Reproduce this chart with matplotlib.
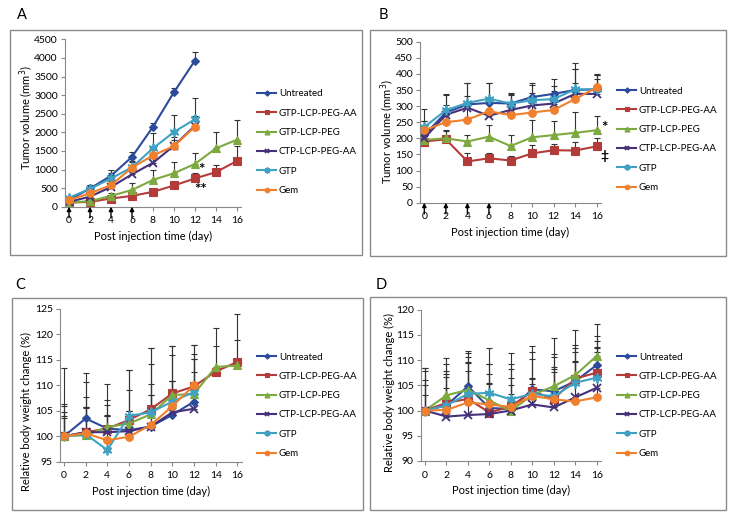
import numpy as np
import matplotlib
matplotlib.use("Agg")
import matplotlib.pyplot as plt
from matplotlib.patches import Rectangle

plt.rcParams['font.family'] = ['Lato', 'DejaVu Sans']
plt.rcParams['font.size'] = 8

# data
names = ["Untreated", "GTP-LCP-PEG-AA", "GTP-LCP-PEG", "CTP-LCP-PEG-AA", "GTP", "Gem"]
days_short = [0, 2, 4, 6, 8, 10, 12]
days_long = [0, 2, 4, 6, 8, 10, 12, 14, 16]
dose_days = [0, 2, 4, 6]

# panel A: tumor volume (mm3)
vol_a = [
    [180, 490, 830, 1340, 2150, 3080, 3930],
    [110, 130, 220, 290, 400, 570, 760, 930, 1230],
    [110, 150, 290, 450, 720, 900, 1150, 1570, 1800],
    [130, 270, 530, 870, 1180, 1640, 2180],
    [240, 480, 760, 1060, 1570, 2010, 2350],
    [180, 360, 580, 1050, 1380, 1630, 2150],
]
err_a = [
    [60, 90, 170, 120, 110, 120, 220],
    [30, 30, 40, 50, 60, 80, 150, 190, 390],
    [30, 40, 90, 180, 280, 300, 290, 450, 540],
    [40, 60, 80, 100, 120, 150, 200],
    [60, 100, 140, 170, 400, 450, 560],
    [50, 80, 100, 150, 200, 250, 300],
]

# panel B: tumor volume (mm3)
vol_b = [
    [210, 280, 305, 310, 308, 328, 338, 350, 352],
    [190, 197, 128, 138, 131, 153, 163, 162, 175],
    [195, 200, 190, 205, 176, 203, 210, 217, 225],
    [200, 273, 295, 270, 288, 302, 308, 338, 338],
    [235, 287, 310, 323, 308, 318, 322, 352, 352],
    [225, 250, 258, 284, 272, 280, 288, 322, 358],
]
err_b = [
    [45, 56, 67, 63, 32, 44, 46, 65, 48],
    [10, 25, 25, 15, 15, 25, 20, 25, 25],
    [20, 25, 19, 35, 34, 55, 44, 65, 43],
    [40, 30, 35, 40, 45, 40, 40, 77, 45],
    [55, 50, 62, 50, 30, 47, 40, 83, 45],
    [30, 25, 40, 40, 35, 40, 40, 50, 40],
]

# panel C: relative body weight (%)
bw_c = [
    [100, 103.5, 101.5, 101.2, 101.9, 104.2, 106.8],
    [100, 100.8, 101.5, 103.2, 105.3, 108.4, 109.8, 112.7, 114.6],
    [100, 100.2, 101.8, 102.5, 104.3, 108.1, 108.3, 113.6, 113.9],
    [100, 100.8, 100.8, 101.0, 101.9, 104.7, 105.4],
    [100, 100.4, 97.3, 104.0, 104.7, 106.8, 108.7],
    [100, 100.6, 99.2, 99.9, 102.2, 105.9, 110.0],
]
err_c = [
    [4.8, 9.0, 8.7, 11.9, 15.4, 13.6, 11.1],
    [13.5, 6.9, 5.7, 9.9, 12.0, 9.4, 8.1, 8.6, 9.5],
    [6.4, 10.4, 4.4, 6.5, 9.9, 7.8, 6.9, 4.1, 5.1],
    [4.0, 4.9, 3.2, 4.0, 6.2, 6.2, 7.3],
    [6.0, 5.3, 6.7, 1.0, 3.4, 4.1, 6.5],
    [3.5, 5.0, 5.0, 5.1, 8.0, 5.0, 6.2],
]

# panel D: relative body weight (%)
bw_d = [
    [100, 101.0, 104.8, 100.5, 100.3, 104.2, 103.8, 105.8, 109.0],
    [100, 101.5, 102.3, 99.6, 100.8, 103.8, 102.3, 106.3, 107.5],
    [100, 103.0, 104.1, 102.0, 99.9, 103.1, 104.8, 107.0, 110.8],
    [100, 98.8, 99.1, 99.3, 100.0, 101.2, 100.6, 102.6, 104.5],
    [100, 101.0, 103.3, 103.5, 102.2, 103.3, 102.8, 105.5, 106.5],
    [100, 100.1, 101.6, 101.2, 100.7, 102.9, 102.2, 101.8, 102.6],
]
err_d = [
    [8.5, 9.4, 7.0, 11.8, 11.0, 8.6, 7.4, 6.6, 8.2],
    [8.4, 7.7, 9.1, 9.7, 8.5, 7.7, 12.0, 9.7, 7.3],
    [7.8, 4.8, 6.5, 5.2, 8.3, 7.1, 5.7, 6.0, 3.0],
    [6.1, 8.4, 10.4, 6.2, 6.5, 5.1, 8.0, 8.9, 7.9],
    [5.1, 5.6, 4.6, 5.8, 2.8, 2.0, 4.8, 4.1, 6.0],
    [3.0, 4.4, 8.0, 4.0, 2.6, 3.5, 6.0, 8.0, 9.0],
]

colors = ['#2D4B9B', '#B33C3A', '#7DAA3F', '#45307A', '#3FA2C5', '#F0802D']
markers = ['D', 's', '^', 'x', (6, 2, 0), 'o']
msizes = [4.5, 5.5, 6, 6, 7, 5.5]

W, H = 729, 517
fig = plt.figure(figsize=(W / 100, H / 100), dpi=100)


def px_axes(x0, x1, ytop, ybot):
    return fig.add_axes([x0 / W, 1 - ybot / H, (x1 - x0) / W, (ybot - ytop) / H])


def frame(x0, y0, x1, y1):
    fig.patches.append(Rectangle((x0 / W, 1 - y1 / H), (x1 - x0) / W, (y1 - y0) / H,
                                 transform=fig.transFigure, fill=False,
                                 edgecolor='#8a8a8a', lw=1.0))


def draw_panel(ax, values, errs, ylim, ystep, ylabel, lab_x, lab_y):
    for i in range(6):
        d = days_short if len(values[i]) == 7 else days_long
        ax.errorbar(d, values[i], yerr=[np.zeros(len(errs[i])), errs[i]], fmt='none',
                    ecolor='#333333', elinewidth=0.8, capsize=2.5, capthick=0.8, zorder=1)
    for i in range(6):
        d = days_short if len(values[i]) == 7 else days_long
        ax.plot(d, values[i], color=colors[i], marker=markers[i], ms=msizes[i],
                mew=1.3 if i in (3, 4) else 0.8, lw=1.5, label=names[i], zorder=2 + i * 0.1)
    ax.set_xlim(-0.4, 16.4)
    ax.set_ylim(*ylim)
    ax.set_xticks(range(0, 17, 2))
    ax.set_yticks(np.arange(ylim[0], ylim[1] + ystep / 2, ystep))
    ax.set_xlabel("Post injection time (day)", labelpad=4, fontsize=8)
    ax.set_ylabel(ylabel, fontsize=8)
    ax.yaxis.set_label_coords(lab_x, lab_y)
    for s in ['top', 'right']:
        ax.spines[s].set_visible(False)
    for s in ['left', 'bottom']:
        ax.spines[s].set_color('#888888')
    ax.tick_params(length=3, color='#888888', labelsize=7.5, pad=2)
    ax.tick_params(axis='x', pad=4)
    ax.patch.set_alpha(0)


def arrows(ax):
    for d in dose_days:
        ax.annotate('', xy=(d, 0), xycoords=('data', 'axes fraction'),
                    xytext=(d, -8), textcoords=('data', 'offset points'),
                    arrowprops=dict(arrowstyle='-|>', color='black', lw=1.0,
                                    mutation_scale=6, shrinkA=0, shrinkB=0),
                    annotation_clip=False)


def legend(ax, x, y):
    ax.legend(loc='upper left', bbox_to_anchor=(x / W, 1 - y / H), bbox_transform=fig.transFigure,
              frameon=False, borderpad=0, borderaxespad=0, handlelength=2.0, handletextpad=0.25,
              labelspacing=1.06, markerscale=0.6, fontsize=7)


frame(10, 30, 362, 255)
frame(370, 30, 726, 256)
frame(12, 298, 363, 510)
frame(370, 297, 726, 510)

axA = px_axes(64.8, 241.2, 39.3, 206.7)
draw_panel(axA, vol_a, err_a, (0, 4500), 500, "Tumor volume (mm$^3$)", -0.17, 0.53)
arrows(axA)
axA.text(12.6, 985, '*', fontsize=11, fontweight='bold', ha='center', va='center')
axA.text(12.5, 440, '**', fontsize=11, fontweight='bold', ha='center', va='center')
legend(axA, 257, 89.5)

axB = px_axes(420, 601, 41.7, 202.7)
draw_panel(axB, vol_b, err_b, (0, 500), 50, "Tumor volume (mm$^3$)", -0.13, 0.445)
arrows(axB)
axB.text(16.75, 232, '*', fontsize=11, fontweight='bold', ha='center', va='center', clip_on=False)
axB.text(16.75, 145, '‡', fontsize=10, fontweight='bold', ha='center', va='center', clip_on=False)
legend(axB, 617, 86.5)

axC = px_axes(59.7, 241.6, 309, 461.7)
draw_panel(axC, bw_c, err_c, (95, 125), 5, "Relative body weight change (%)", -0.15, 0.33)
legend(axC, 257, 352.5)

axD = px_axes(420.7, 601, 309.5, 461)
draw_panel(axD, bw_d, err_d, (90, 120), 5, "Relative body weight change (%)", -0.14, 0.45)
legend(axD, 617, 352.5)

for lab, x, y in [('A', 22, 15), ('B', 383, 15), ('C', 20, 285), ('D', 381, 285)]:
    fig.text(x / W, 1 - y / H, lab, fontsize=10.5, ha='center', va='center')

fig.savefig("out.png", dpi=100)
